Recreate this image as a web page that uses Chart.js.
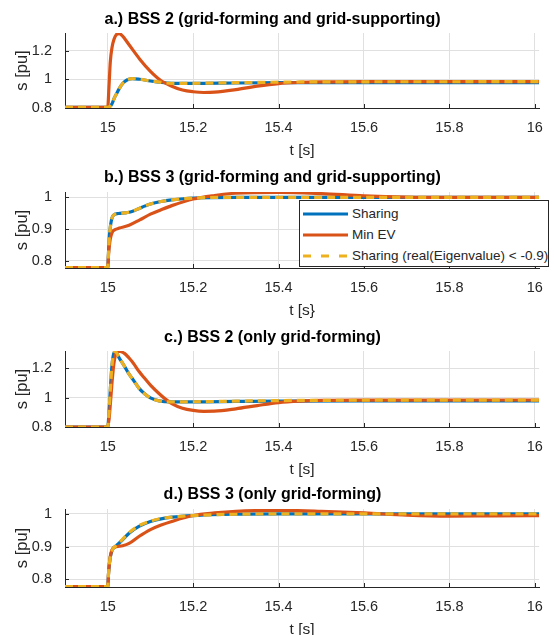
<!DOCTYPE html>
<html>
<head>
<meta charset="utf-8">
<script src="https://cdn.jsdelivr.net/npm/chart.js@4.4.1/dist/chart.umd.min.js"></script>
<style>
  body { margin: 0; background: #fff; }
  #wrap { position: relative; width: 554px; height: 635px; overflow: hidden; }
  canvas { position: absolute; left: 0; }
  #legend {
    position: absolute; left: 299px; top: 200px; width: 248px; height: 65px;
    border: 1px solid #262626; background: #fff;
    font-family: "Liberation Sans", Arial, Helvetica, sans-serif; font-size: 13.5px; color: #262626;
  }
  #legend .row { position: absolute; left: 3px; height: 20px; line-height: 20px; display: flex; align-items: center; white-space: nowrap; }
  #legend svg { margin-right: 4px; }
</style>
</head>
<body>
<div id="wrap">
  <canvas id="chartA"></canvas>
  <canvas id="chartB"></canvas>
  <canvas id="chartC"></canvas>
  <canvas id="chartD"></canvas>
  <div id="legend">
    <div class="row" style="top:3px"><svg width="45" height="6"><line x1="0" y1="3" x2="45" y2="3" stroke="#0072BD" stroke-width="3"/></svg>Sharing</div>
    <div class="row" style="top:24px"><svg width="45" height="6"><line x1="0" y1="3" x2="45" y2="3" stroke="#D95319" stroke-width="3"/></svg>Min EV</div>
    <div class="row" style="top:45px"><svg width="45" height="6"><line x1="0" y1="3" x2="45" y2="3" stroke="#EDB120" stroke-width="3" stroke-dasharray="8 10"/></svg>Sharing (real(Eigenvalue) &lt; -0.9)</div>
  </div>
</div>
<script>
// ticks
const xTicks = [15, 15.2, 15.4, 15.6, 15.8, 16];
const yTicksBig = [0.8, 1, 1.2];
const yTicksSmall = [0.8, 0.9, 1];

// a.) BSS 2, grid-forming and grid-supporting  [t, s]
const aSharing = [[14.9,0.805],[15,0.805],[15.005,0.81],[15.01,0.83],[15.015,0.866],[15.02,0.895],[15.027,0.935],[15.035,0.97],[15.045,0.995],[15.058,1.005],[15.075,1.0],[15.1,0.988],[15.125,0.978],[15.15,0.972],[15.2,0.971],[15.3,0.974],[15.4,0.976],[15.6,0.977],[16.01,0.977]];
const aMinEV = [[14.9,0.805],[15,0.805],[15.003,0.95],[15.006,1.12],[15.01,1.22],[15.015,1.28],[15.02,1.31],[15.027,1.318],[15.035,1.30],[15.05,1.24],[15.075,1.14],[15.1,1.055],[15.125,0.99],[15.15,0.952],[15.175,0.925],[15.2,0.913],[15.225,0.908],[15.25,0.91],[15.3,0.928],[15.35,0.952],[15.4,0.97],[15.45,0.978],[15.5,0.982],[15.6,0.984],[16.01,0.984]];
const aSharingEig = [[14.9,0.805],[15,0.805],[15.005,0.81],[15.01,0.83],[15.015,0.866],[15.02,0.895],[15.027,0.935],[15.035,0.97],[15.045,0.995],[15.058,1.005],[15.075,1.0],[15.1,0.988],[15.125,0.978],[15.15,0.972],[15.2,0.972],[15.3,0.976],[15.4,0.98],[15.5,0.982],[16.01,0.983]];

// b.) BSS 3, grid-forming and grid-supporting
const bSharing = [[14.9,0.778],[15,0.778],[15.002,0.83],[15.004,0.88],[15.007,0.915],[15.01,0.935],[15.015,0.945],[15.025,0.949],[15.04,0.951],[15.05,0.953],[15.06,0.957],[15.075,0.966],[15.1,0.979],[15.125,0.987],[15.15,0.992],[15.2,0.998],[15.3,1.0],[15.5,1.0],[16.01,1.0]];
const bMinEV = [[14.9,0.778],[15,0.778],[15.002,0.82],[15.005,0.86],[15.008,0.88],[15.012,0.893],[15.017,0.898],[15.027,0.903],[15.05,0.912],[15.075,0.929],[15.1,0.947],[15.125,0.961],[15.15,0.974],[15.2,0.995],[15.25,1.006],[15.3,1.013],[15.4,1.016],[15.5,1.012],[15.6,1.005],[15.7,1.001],[15.8,1.0],[16.01,1.0]];
const bSharingEig = [[14.9,0.778],[15,0.778],[15.002,0.83],[15.004,0.88],[15.007,0.915],[15.01,0.935],[15.015,0.945],[15.025,0.949],[15.04,0.951],[15.05,0.953],[15.06,0.957],[15.075,0.966],[15.1,0.979],[15.125,0.987],[15.15,0.992],[15.2,0.998],[15.3,1.0],[15.5,1.0],[16.01,1.0]];

// c.) BSS 2, only grid-forming
const cSharing = [[14.9,0.8],[15,0.8],[15.003,0.9],[15.006,1.05],[15.01,1.22],[15.014,1.3],[15.018,1.314],[15.027,1.27],[15.04,1.21],[15.05,1.16],[15.06,1.12],[15.073,1.065],[15.087,1.025],[15.1,0.998],[15.12,0.978],[15.15,0.971],[15.2,0.971],[15.3,0.974],[15.4,0.977],[15.6,0.978],[16.01,0.978]];
const cMinEV = [[14.9,0.8],[15,0.8],[15.003,0.85],[15.006,0.95],[15.01,1.1],[15.014,1.22],[15.018,1.29],[15.023,1.316],[15.03,1.314],[15.04,1.3],[15.05,1.27],[15.06,1.235],[15.073,1.18],[15.087,1.13],[15.1,1.085],[15.12,1.028],[15.135,0.99],[15.15,0.96],[15.175,0.928],[15.2,0.913],[15.225,0.907],[15.25,0.908],[15.3,0.924],[15.35,0.946],[15.4,0.966],[15.45,0.976],[15.5,0.981],[15.6,0.983],[16.01,0.984]];
const cSharingEig = [[14.9,0.8],[15,0.8],[15.003,0.9],[15.006,1.05],[15.01,1.22],[15.014,1.3],[15.018,1.314],[15.027,1.27],[15.04,1.21],[15.05,1.16],[15.06,1.12],[15.073,1.065],[15.087,1.025],[15.1,0.998],[15.12,0.978],[15.15,0.971],[15.2,0.972],[15.3,0.976],[15.4,0.98],[15.5,0.982],[16.01,0.983]];

// d.) BSS 3, only grid-forming
const dSharing = [[14.9,0.778],[15,0.778],[15.002,0.82],[15.005,0.86],[15.008,0.88],[15.012,0.893],[15.02,0.903],[15.03,0.915],[15.05,0.941],[15.073,0.962],[15.1,0.977],[15.125,0.985],[15.15,0.99],[15.2,0.995],[15.3,0.999],[15.4,1.0],[16.01,1.0]];
const dMinEV = [[14.9,0.778],[15,0.778],[15.002,0.82],[15.005,0.86],[15.008,0.882],[15.012,0.895],[15.02,0.9],[15.035,0.903],[15.05,0.91],[15.073,0.931],[15.1,0.952],[15.125,0.966],[15.15,0.977],[15.2,0.995],[15.25,1.003],[15.3,1.008],[15.4,1.011],[15.5,1.008],[15.6,1.003],[15.7,0.996],[15.8,0.993],[15.9,0.994],[16.01,0.995]];
const dSharingEig = [[14.9,0.778],[15,0.778],[15.002,0.82],[15.005,0.86],[15.008,0.88],[15.012,0.893],[15.02,0.903],[15.03,0.916],[15.05,0.943],[15.073,0.964],[15.1,0.978],[15.125,0.986],[15.15,0.99],[15.2,0.995],[15.3,0.999],[15.4,1.0],[16.01,1.0]];

const blue = '#0072BD';
const orange = '#D95319';
const yellow = '#EDB120';
const axisColor = '#262626';
const gridColor = '#e0e0e0';
const fontFamily = '"Liberation Sans", Arial, Helvetica, sans-serif';

Chart.defaults.font.family = fontFamily;
Chart.defaults.color = axisColor;

const panels = [
  { id: 'chartA', title: 'a.) BSS 2 (grid-forming and grid-supporting)', xLabel: 't [s]', yMin: 0.8, yMax: 1.322, yTicks: yTicksBig,
    series: [aSharing, aMinEV, aSharingEig], titleY: 20, areaTop: 33, areaBottom: 108 },
  { id: 'chartB', title: 'b.) BSS 3 (grid-forming and grid-supporting)', xLabel: 't [s}', yMin: 0.777, yMax: 1.017, yTicks: yTicksSmall,
    series: [bSharing, bMinEV, bSharingEig], titleY: 178, areaTop: 192, areaBottom: 268 },
  { id: 'chartC', title: 'c.) BSS 2 (only grid-forming)', xLabel: 't [s]', yMin: 0.8, yMax: 1.318, yTicks: yTicksBig,
    series: [cSharing, cMinEV, cSharingEig], titleY: 338, areaTop: 351, areaBottom: 427 },
  { id: 'chartD', title: 'd.) BSS 3 (only grid-forming)', xLabel: 't [s]', yMin: 0.777, yMax: 1.015, yTicks: yTicksSmall,
    series: [dSharing, dMinEV, dSharingEig], titleY: 495, areaTop: 509, areaBottom: 587 }
];

const AREA_LEFT = 65;
const AREA_RIGHT = 545;
const X_AXIS_H = 54;

// small inward tick marks like matlab
const innerTicks = {
  id: 'innerTicks',
  beforeDatasetsDraw(chart) {
    const { ctx, chartArea: a, scales: { x, y } } = chart;
    ctx.save();
    ctx.strokeStyle = axisColor;
    ctx.lineWidth = 1;
    ctx.beginPath();
    x.ticks.forEach(t => {
      const px = Math.round(x.getPixelForValue(t.value)) + 0.5;
      ctx.moveTo(px, a.bottom);
      ctx.lineTo(px, a.bottom - 4);
    });
    y.ticks.forEach(t => {
      const py = Math.round(y.getPixelForValue(t.value)) + 0.5;
      ctx.moveTo(a.left, py);
      ctx.lineTo(a.left + 4, py);
    });
    ctx.stroke();
    ctx.restore();
  }
};

function toPoints(list) {
  return list.map(p => ({ x: p[0], y: p[1] }));
}

function makeChart(p) {
  const canvas = document.getElementById(p.id);
  const top = p.titleY - 18;
  const height = p.areaBottom - top + X_AXIS_H;
  canvas.width = 554;
  canvas.height = height;
  canvas.style.top = top + 'px';

  const titleSize = 16;
  const titleLH = titleSize * 1.15;
  const padTop = 18 - titleLH / 2;
  const padBottom = (p.areaTop - top) - padTop - titleLH;

  const line = (data, color, order, dash) => ({
    data: toPoints(data),
    borderColor: color,
    borderWidth: 3.2,
    borderDash: dash || [],
    pointRadius: 0,
    cubicInterpolationMode: 'monotone',
    order: order
  });

  new Chart(canvas, {
    type: 'line',
    data: {
      datasets: [
        line(p.series[0], blue, 2),
        line(p.series[1], orange, 1),
        line(p.series[2], yellow, 0, [8, 5])
      ]
    },
    options: {
      responsive: false,
      animation: false,
      layout: { padding: { left: 0, right: 554 - AREA_RIGHT, top: 0, bottom: 0 } },
      plugins: {
        legend: { display: false },
        tooltip: { enabled: false },
        title: {
          display: true,
          text: p.title,
          color: '#000',
          font: { size: titleSize, weight: 'bold', lineHeight: 1.15 },
          padding: { top: padTop, bottom: padBottom }
        }
      },
      scales: {
        x: {
          type: 'linear',
          min: 14.9,
          max: 16.01,
          afterBuildTicks: axis => { axis.ticks = xTicks.map(v => ({ value: v })); },
          afterFit: axis => { axis.height = X_AXIS_H; },
          ticks: { padding: 11, font: { size: 14.5 }, color: axisColor, maxRotation: 0, callback: v => String(v) },
          grid: { color: gridColor, drawTicks: false },
          border: { display: true, color: axisColor, width: 1 },
          title: { display: true, text: p.xLabel, font: { size: 15.5 }, color: axisColor, padding: { top: 0, bottom: 2 } }
        },
        y: {
          min: p.yMin,
          max: p.yMax,
          afterBuildTicks: axis => { axis.ticks = p.yTicks.map(v => ({ value: v })); },
          afterFit: axis => { axis.width = AREA_LEFT; },
          ticks: { padding: 13, font: { size: 14.5 }, color: axisColor, callback: v => String(v) },
          grid: { color: gridColor, drawTicks: false },
          border: { display: true, color: axisColor, width: 1 },
          title: { display: true, text: 's [pu]', font: { size: 16.5 }, color: axisColor, padding: { top: 13, bottom: 0 } }
        }
      }
    },
    plugins: [innerTicks]
  });
}

panels.forEach(makeChart);
</script>
</body>
</html>
